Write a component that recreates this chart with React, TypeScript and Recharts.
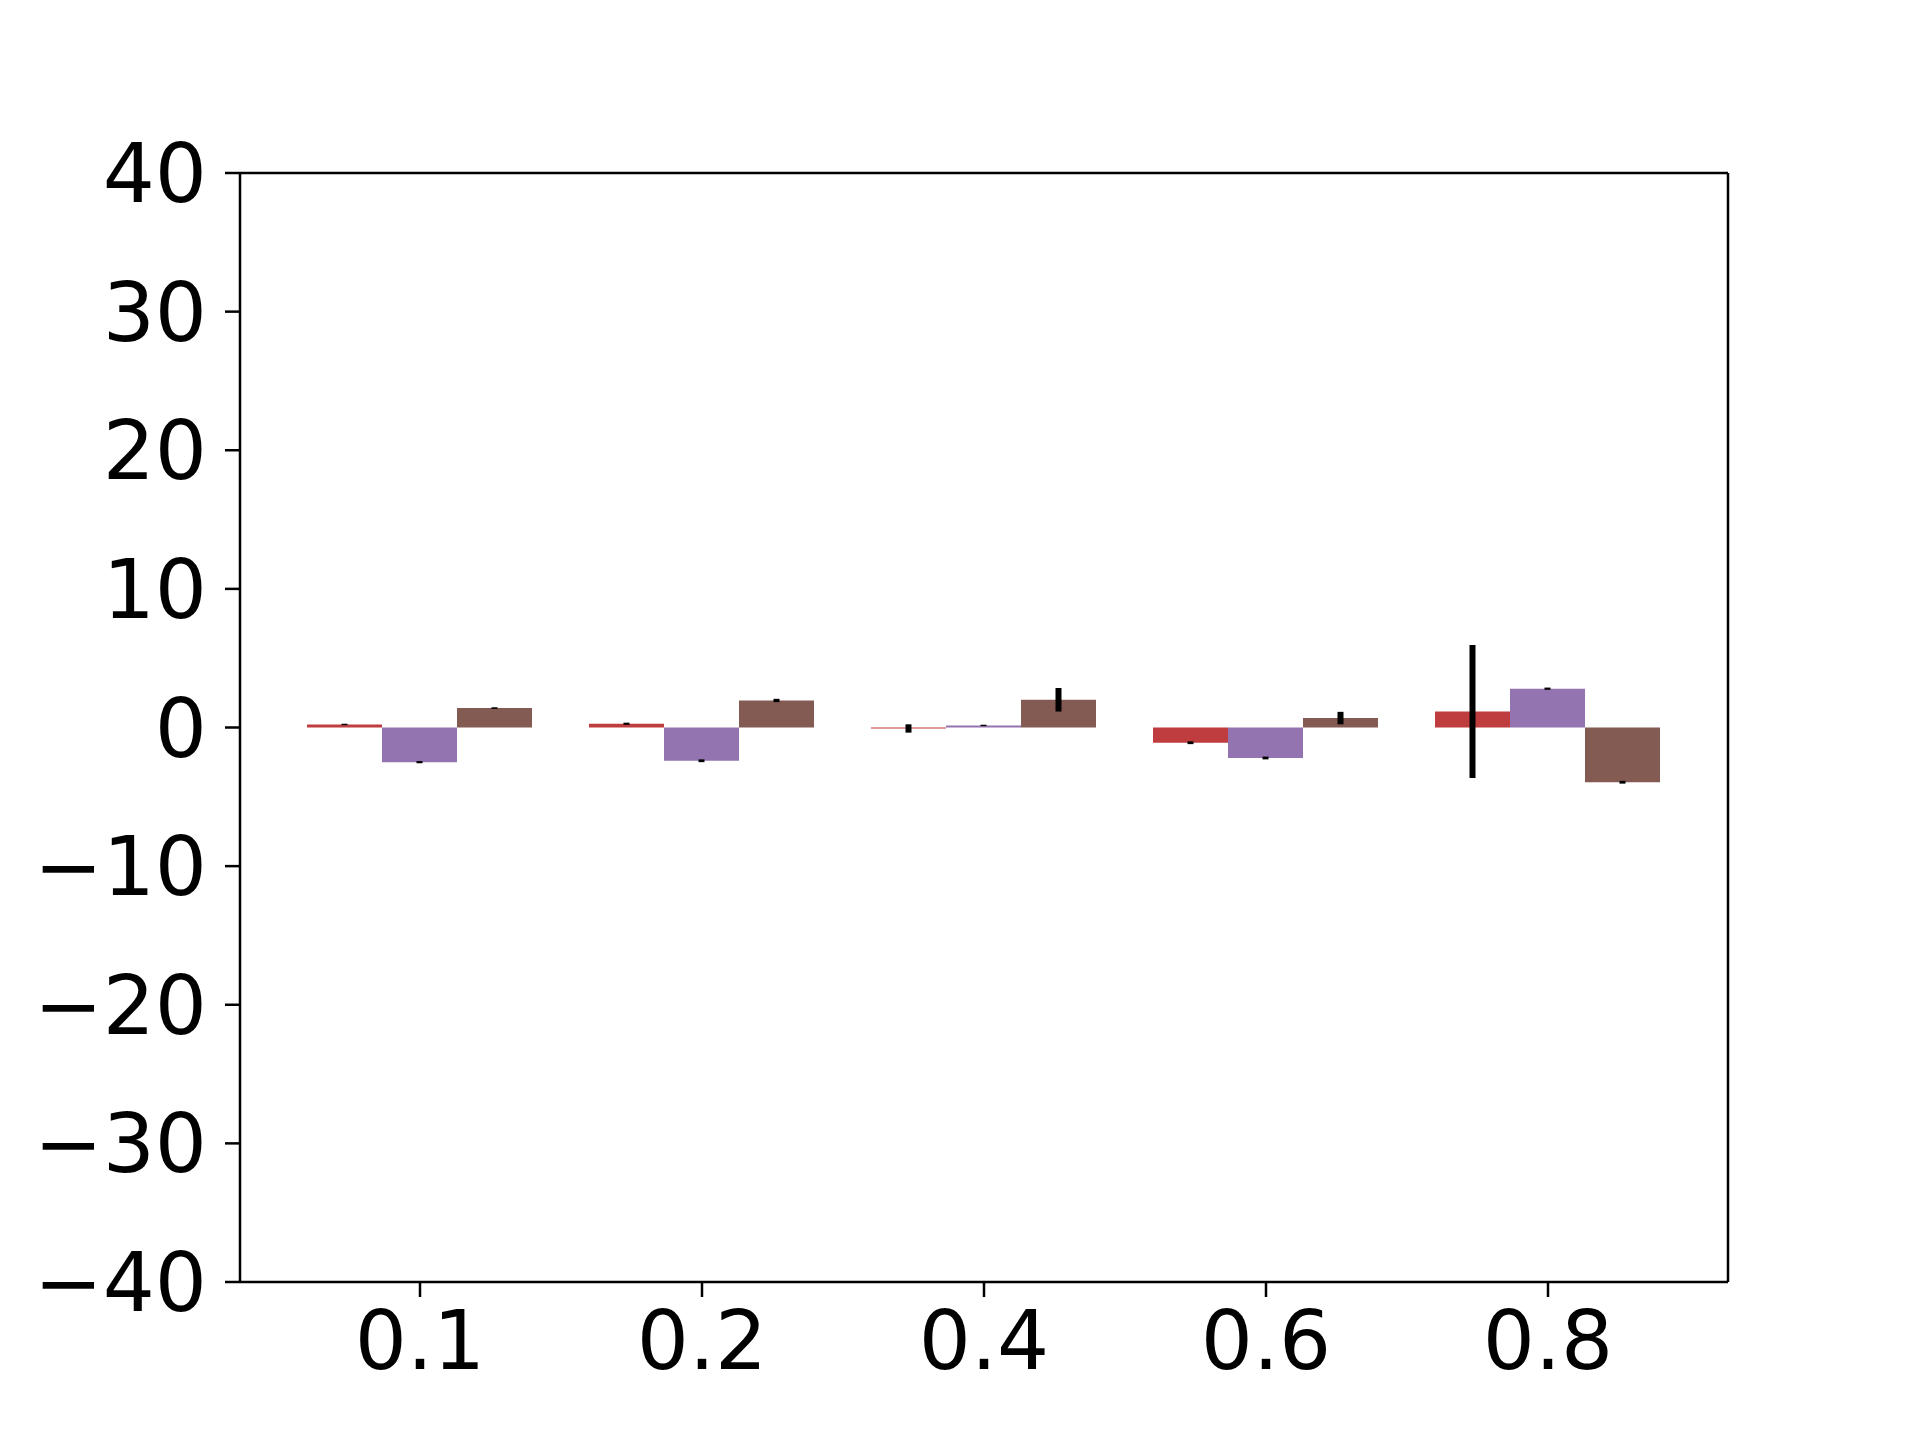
import { BarChart, Bar, XAxis, YAxis, ErrorBar } from 'recharts';

const categories = ['0.1', '0.2', '0.4', '0.6', '0.8'];
const redValues = [0.22, 0.27, -0.07, -1.1, 1.15];
const redErrors = [0.05, 0.08, 0.3, 0.1, 4.8];
const purpleValues = [-2.5, -2.4, 0.15, -2.2, 2.8];
const purpleErrors = [0.08, 0.1, 0.05, 0.1, 0.08];
const brownValues = [1.4, 1.95, 2.0, 0.68, -3.95];
const brownErrors = [0.06, 0.12, 0.85, 0.45, 0.1];
const yTicks = [-40, -30, -20, -10, 0, 10, 20, 30, 40];

const data = categories.map((c, i) => ({
  name: c,
  red: redValues[i],
  redErr: redErrors[i],
  purple: purpleValues[i],
  purpleErr: purpleErrors[i],
  brown: brownValues[i],
  brownErr: brownErrors[i],
}));

// matplotlib draws a real minus sign
const formatTick = (v: number) => String(v).replace('-', '\u2212');

const tickFont = { fontFamily: 'DejaVu Sans', fontSize: 82, fill: '#000' };
const spine = { stroke: '#000', strokeWidth: 2.5 };

if (typeof document !== 'undefined') {
  document.body.style.margin = '0';
}

export default function App() {
  return (
    <div style={{ width: 1920, height: 1440, background: '#fff' }}>
      <BarChart
        width={1920}
        height={1440}
        data={data}
        margin={{ top: 172, right: 191, bottom: 0, left: 0 }}
        barCategoryGap={28}
        barGap={0}
      >
        <XAxis
          dataKey="name"
          height={158}
          padding={{ left: 39, right: 39 }}
          tick={tickFont}
          tickSize={15}
          tickMargin={14}
          axisLine={spine}
          tickLine={spine}
        />
        {/* top spine */}
        <XAxis xAxisId="top" dataKey="name" orientation="top" height={1} tick={false} tickLine={false} axisLine={spine} />
        <YAxis
          width={240}
          domain={[-40, 40]}
          ticks={yTicks}
          interval={0}
          tick={tickFont}
          tickFormatter={formatTick}
          tickSize={15}
          tickMargin={18}
          axisLine={spine}
          tickLine={spine}
        />
        {/* right spine */}
        <YAxis yAxisId="right" orientation="right" width={1} domain={[-40, 40]} tick={false} tickLine={false} axisLine={spine} />
        <Bar dataKey="red" fill="#bf3d3e" isAnimationActive={false}>
          <ErrorBar dataKey="redErr" width={0} stroke="#000" strokeWidth={6} direction="y" isAnimationActive={false} />
        </Bar>
        <Bar dataKey="purple" fill="#9373b0" isAnimationActive={false}>
          <ErrorBar dataKey="purpleErr" width={0} stroke="#000" strokeWidth={6} direction="y" isAnimationActive={false} />
        </Bar>
        <Bar dataKey="brown" fill="#845b53" isAnimationActive={false}>
          <ErrorBar dataKey="brownErr" width={0} stroke="#000" strokeWidth={6} direction="y" isAnimationActive={false} />
        </Bar>
      </BarChart>
    </div>
  );
}
